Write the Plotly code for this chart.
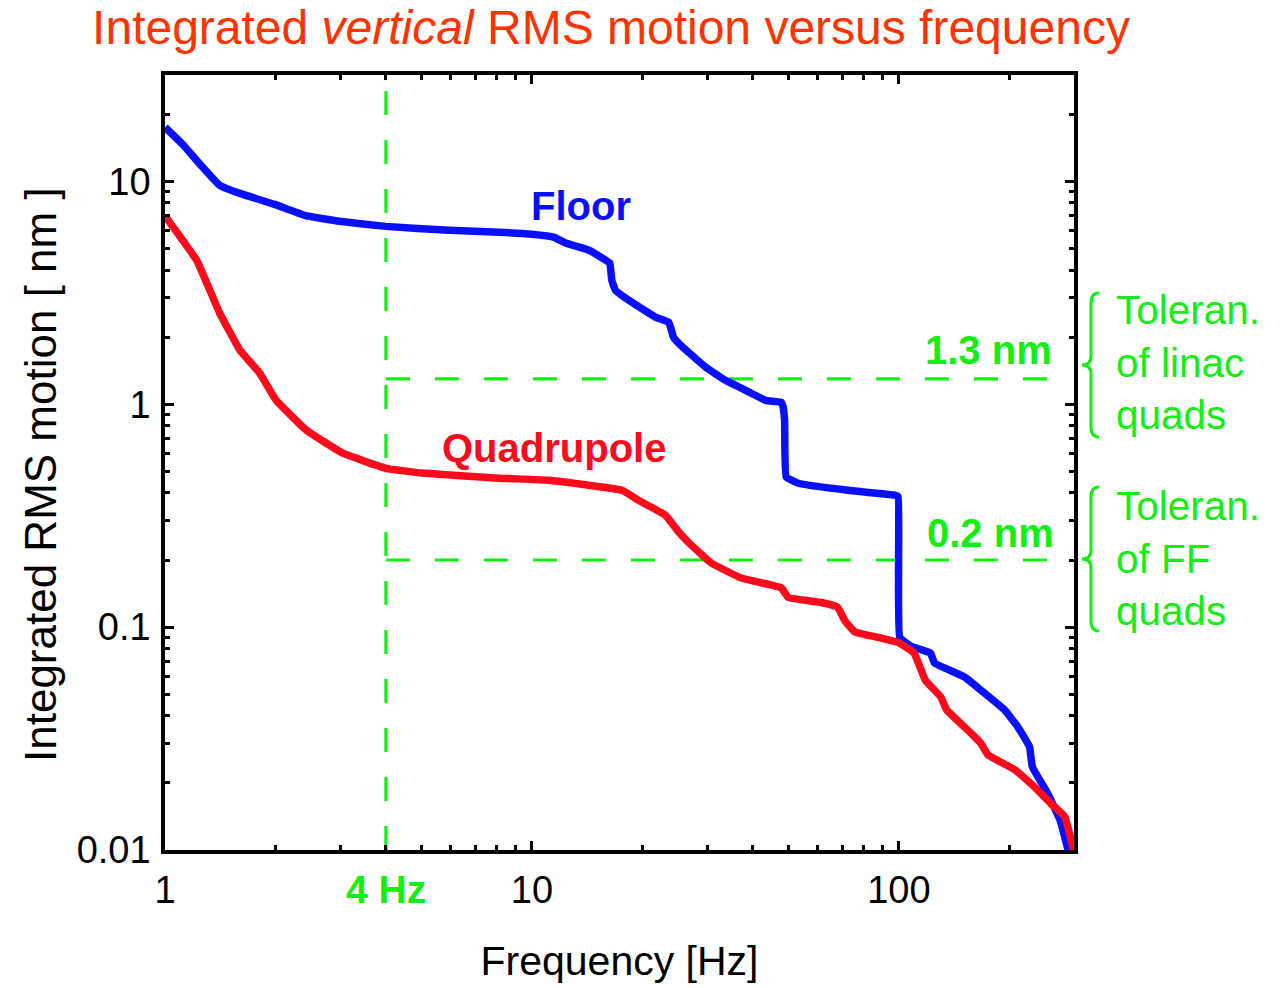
import numpy as np
import plotly.graph_objects as go

# ---------------- data ----------------
floor_f = [1.0, 1.12, 1.22, 1.41, 1.60, 1.99, 2.40, 2.99, 4.0, 5.95, 8.13, 10.0, 11.5, 12.4, 14.3,
           15.9, 16.3, 16.5, 16.9, 18.7, 21.7, 23.6, 24.3, 25.4, 29.7, 33.7, 39.6, 43.3, 47.8,
           48.3, 48.8, 49.3, 53.2, 72.6, 97.5, 99.5, 100.5, 108, 122, 125, 151, 167, 194, 211,
           227, 231, 254, 275, 290]
floor_rms = [17.5, 14.6, 12.4, 9.6, 8.83, 7.88, 7.04, 6.62, 6.28, 6.03, 5.91, 5.79, 5.61, 5.27, 4.91,
             4.42, 4.30, 3.60, 3.24, 2.87, 2.46, 2.33, 2.0, 1.84, 1.47, 1.28, 1.12, 1.04, 1.02,
             0.98, 0.85, 0.471, 0.442, 0.411, 0.391, 0.385, 0.090, 0.082, 0.0764, 0.069, 0.0597,
             0.0522, 0.0425, 0.0356, 0.029, 0.0236, 0.018, 0.0136, 0.0098]

quad_f = [1.0, 1.22, 1.41, 1.60, 1.81, 2.01, 2.43, 3.05, 4.0, 5.02, 8.13, 11.1, 14.3, 17.6,
          19.5, 23.1, 25.1, 26.7, 30.8, 37.2, 47.8, 49.9, 61.4, 68.0, 71.2, 75.9, 89.4, 100,
          110, 118, 130, 135, 157, 167, 175, 207, 234, 259, 283, 300]
quad_rms = [7.0, 4.42, 2.56, 1.75, 1.38, 1.04, 0.764, 0.603, 0.516, 0.491, 0.466, 0.456, 0.433,
            0.411, 0.371, 0.318, 0.267, 0.240, 0.194, 0.166, 0.150, 0.136, 0.129, 0.123, 0.107,
            0.095, 0.0893, 0.085, 0.0764, 0.0578, 0.0486, 0.0425, 0.0335, 0.0302, 0.0267,
            0.0229, 0.0192, 0.0162, 0.0141, 0.0098]

cut_freq = 4.0
tol_linac = 1.3
tol_ff = 0.2
x_max = 300.0
y_min, y_max = 0.01, 30.0

x_major = [1, 10, 100]
x_major_text = ["1", "10", "100"]
x_minor = [2, 3, 4, 5, 6, 7, 8, 9, 20, 30, 40, 50, 60, 70, 80, 90, 200]
y_major = [0.01, 0.1, 1, 10]
y_major_text = ["0.01", "0.1", "1", "10"]
y_minor = [0.02, 0.03, 0.04, 0.05, 0.06, 0.07, 0.08, 0.09,
           0.2, 0.3, 0.4, 0.5, 0.6, 0.7, 0.8, 0.9,
           2, 3, 4, 5, 6, 7, 8, 9, 20]

# ---------------- styling ----------------
W, H = 1288, 988
ML, MR, MT, MB = 165, 214, 75, 138
FONT = "Liberation Sans, Arial, Helvetica, sans-serif"
GREEN = "#12F012"
BLUE = "#0A10FF"
RED = "#FF0A1C"
TITLE_COL = "#FF3300"

pw, ph = W - ML - MR, H - MT - MB


def pp(x, y):
    return (x - ML) / pw, (H - MB - y) / ph


fig = go.Figure()

DASH = "24px,25px"
fig.add_trace(go.Scatter(x=[cut_freq, cut_freq], y=[y_min, y_max], mode="lines",
                         line=dict(color=GREEN, width=3.2, dash=DASH), hoverinfo="skip"))
fig.add_trace(go.Scatter(x=[cut_freq, 262], y=[tol_linac, tol_linac], mode="lines",
                         line=dict(color=GREEN, width=3.2, dash=DASH), hoverinfo="skip"))
fig.add_trace(go.Scatter(x=[cut_freq, 262], y=[tol_ff, tol_ff], mode="lines",
                         line=dict(color=GREEN, width=3.2, dash=DASH), hoverinfo="skip"))

fig.add_trace(go.Scatter(x=floor_f, y=floor_rms, mode="lines", name="Floor",
                         line=dict(color=BLUE, width=7.5, shape="spline", smoothing=0.3)))
fig.add_trace(go.Scatter(x=quad_f, y=quad_rms, mode="lines", name="Quadrupole",
                         line=dict(color=RED, width=7.5, shape="spline", smoothing=0.3)))

axis_common = dict(
    type="log", showgrid=False, zeroline=False, showline=True, linecolor="black",
    linewidth=3.5, mirror="allticks", ticks="inside", ticklen=9, tickwidth=3,
    tickcolor="black", tickfont=dict(family=FONT, size=38, color="black"),
    minor=dict(ticks="inside", ticklen=5, tickwidth=2.5, tickcolor="black", showgrid=False),
)

fig.update_xaxes(**axis_common, range=[0, np.log10(x_max)], tickmode="array",
                 tickvals=x_major, ticktext=x_major_text, ticklabelstandoff=4,
                 title=dict(text="Frequency [Hz]", font=dict(family=FONT, size=41, color="black"),
                            standoff=37))
fig.update_xaxes(minor_tickvals=x_minor)
fig.update_yaxes(**axis_common, range=[np.log10(y_min), np.log10(y_max)], tickmode="array",
                 tickvals=y_major, ticktext=y_major_text, ticklabelstandoff=3)
fig.update_yaxes(minor_tickvals=y_minor)

ann = []
ann.append(dict(x=pp(40, 0)[0], y=pp(0, 475)[1], xref="paper", yref="paper",
                text="Integrated RMS motion [ nm ]", textangle=-90, showarrow=False,
                xanchor="center", yanchor="middle",
                font=dict(family=FONT, size=44, color="black")))
ann.append(dict(x=np.log10(13.6), y=np.log10(7.75), xref="x", yref="y", text="<b>Floor</b>",
                showarrow=False, font=dict(family=FONT, size=40, color=BLUE)))
ann.append(dict(x=np.log10(11.5), y=np.log10(0.636), xref="x", yref="y", text="<b>Quadrupole</b>",
                showarrow=False, font=dict(family=FONT, size=40, color=RED)))
ann.append(dict(x=np.log10(175), y=np.log10(1.75), xref="x", yref="y", text="<b>1.3 nm</b>",
                showarrow=False, font=dict(family=FONT, size=40, color=GREEN)))
ann.append(dict(x=np.log10(178), y=np.log10(0.264), xref="x", yref="y", text="<b>0.2 nm</b>",
                showarrow=False, font=dict(family=FONT, size=40, color=GREEN)))
ann.append(dict(x=np.log10(cut_freq), y=pp(0, 890)[1], xref="x", yref="paper", text="<b>4 Hz</b>",
                showarrow=False, yanchor="middle", font=dict(family=FONT, size=39, color=GREEN)))
ann.append(dict(x=pp(1114, 0)[0], y=pp(0, 362)[1], xref="paper", yref="paper",
                text="Toleran.<br>of linac<br>quads", align="left", xanchor="left",
                yanchor="middle", showarrow=False, font=dict(family=FONT, size=40.5, color=GREEN)))
ann.append(dict(x=pp(1114, 0)[0], y=pp(0, 558)[1], xref="paper", yref="paper",
                text="Toleran.<br>of FF<br>quads", align="left", xanchor="left",
                yanchor="middle", showarrow=False, font=dict(family=FONT, size=40.5, color=GREEN)))


def brace(top, bot, xs=1091, xe=1099, xt=1082):
    mid = (top + bot) / 2
    pts = [("M", xe, top), ("Q", xs, top), ("", xs, top + 10), ("L", xs, mid - 9),
           ("Q", xs, mid), ("", xt, mid), ("Q", xs, mid), ("", xs, mid + 9),
           ("L", xs, bot - 10), ("Q", xs, bot), ("", xe, bot)]
    s = ""
    for cmd, x, y in pts:
        px_, py_ = pp(x, y)
        s += f"{cmd}{px_:.5f},{py_:.5f} "
    return dict(type="path", path=s.strip(), xref="paper", yref="paper",
                line=dict(color=GREEN, width=3))


fig.update_layout(
    width=W, height=H, margin=dict(l=ML, r=MR, t=MT, b=MB),
    paper_bgcolor="white", plot_bgcolor="white", showlegend=False,
    title=dict(text="Integrated <i>vertical</i> RMS motion versus frequency",
               x=611 / W, xanchor="center", y=1 - 27 / H, yanchor="middle",
               font=dict(family=FONT, size=48, color=TITLE_COL)),
    annotations=ann,
    shapes=[brace(293, 437), brace(487, 631)],
)

fig.write_html("out.html")
